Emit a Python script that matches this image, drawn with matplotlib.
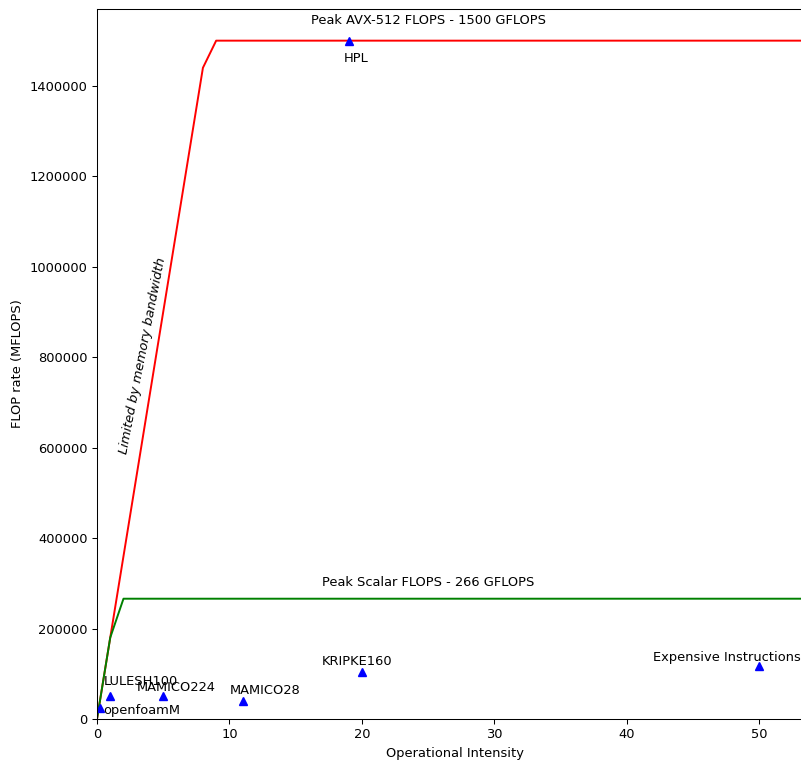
import numpy as np
import matplotlib
matplotlib.use("Agg")
import matplotlib.pyplot as plt

# everything in the reference looks drawn at ~0.94 scale
plt.rcParams.update({
    "font.size": 9.4,
    "lines.linewidth": 1.4,
    "lines.markersize": 5.6,
    "axes.linewidth": 0.75,
    "xtick.major.size": 3.3,
    "ytick.major.size": 3.3,
    "xtick.major.width": 0.75,
    "ytick.major.width": 0.75,
})

# roofline parameters (MFLOPS, MFLOPS per unit of intensity)
peak_avx = 1500000
peak_scalar = 266000
bandwidth = 180000
intensity = np.arange(0, 56)

# measured applications
apps = ["openfoamM", "LULESH100", "MAMICO224", "MAMICO28", "KRIPKE160",
        "Expensive Instructions", "HPL"]
app_oi = [0.25, 1, 5, 11, 20, 50, 19]
app_flops = [24000, 51000, 51000, 40000, 104000, 118000, 1500000]
# label anchors (left edge, vertical centre)
label_x = [0.5, 0.5, 3.0, 10.05, 17.0, 42.0, 18.6]
label_y = [18000, 84000, 69000, 64000, 128000, 137000, 1460000]

fig = plt.figure(figsize=(8.01, 7.62), dpi=100)
ax = fig.add_axes([97/801, 43/762, 715/801, 710/762])

avx_roof = np.minimum(intensity * bandwidth, peak_avx)
scalar_roof = np.minimum(intensity * bandwidth, peak_scalar)
ax.plot(intensity, avx_roof, color="r")
ax.plot(intensity, scalar_roof, color="g")
ax.plot(app_oi, app_flops, "b^", linestyle="none")

for name, lx, ly in zip(apps, label_x, label_y):
    ax.text(lx, ly, name, ha="left", va="center")

ax.text(25, 1530000, "Peak AVX-512 FLOPS - 1500 GFLOPS", ha="center", va="bottom")
ax.text(25, 287000, "Peak Scalar FLOPS - 266 GFLOPS", ha="center", va="bottom")
ax.text(3.45, 803000, "Limited by memory bandwidth", rotation=79, style="italic",
        ha="center", va="center")

ax.set_xlim(0, 54)
ax.set_ylim(0, 1570000)
ax.ticklabel_format(style="plain", axis="y")
ax.set_xlabel("Operational Intensity")
ax.set_ylabel("FLOP rate (MFLOPS)")

fig.savefig("out.png", dpi=100)
